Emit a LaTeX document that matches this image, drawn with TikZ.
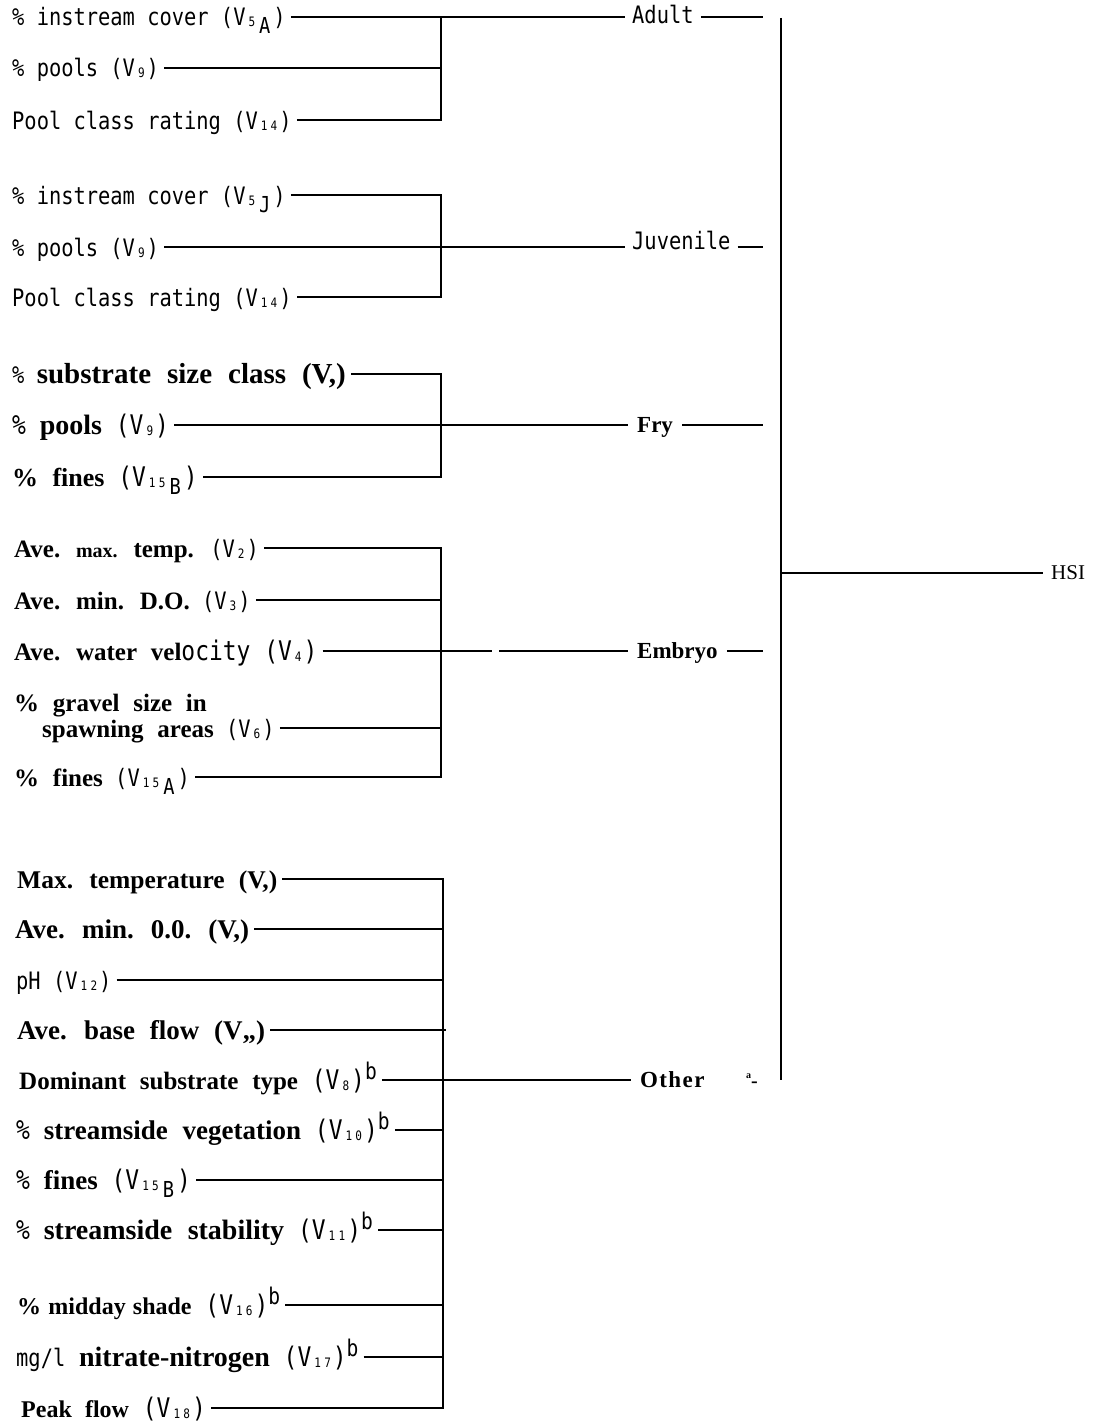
\documentclass[tikz,border=0pt]{standalone}
\usepackage{fontspec}
\setmainfont{Liberation Serif}
\newfontfamily\twf[FakeStretch=0.85]{DejaVu Sans Mono}
\newcommand\bdx[2][25]{{\rmfamily\bfseries\fontsize{#1}{#1}\selectfont\spaceskip=0.55em\relax #2}}
\newcommand\subn[1]{\hspace{3pt}\raisebox{-1pt}{\twf\fontsize{13}{13}\selectfont\addfontfeature{LetterSpace=25}#1}\hspace{2pt}}
\newcommand\lowl[1]{\hspace{2pt}\raisebox{-8pt}{\twf\fontsize{22}{22}\selectfont #1}\hspace{3pt}}
\newcommand\supl[1]{\raisebox{10pt}{\twf\fontsize{23}{23}\selectfont #1}}
\tikzset{
  lbl/.style={anchor=base west, inner xsep=5pt, inner ysep=0pt, font=\twf\fontsize{24}{26}\selectfont},
  lblb/.style={lbl, font=\twf\fontsize{27}{29}\selectfont},
  grp/.style={anchor=base west, inner xsep=7pt, inner ysep=0pt, font=\twf\fontsize{24}{26}\selectfont},
  grpb/.style={anchor=base west, inner xsep=9pt, inner ysep=0pt, font=\rmfamily\bfseries\fontsize{23}{25}\selectfont},
  ln/.style={line width=1.5pt},
  mainln/.style={line width=2.2pt}
}
\begin{document}
\begin{tikzpicture}[x=1pt,y=-1pt]
\useasboundingbox (0,0) rectangle (1098,1421);
\fill[white] (0,0) rectangle (1098,1421);

% ---------------- Adult
\node[lbl] (a1) at (7,26) {\% instream cover (V\subn{5}\lowl{A})};
\node[lbl] (a2) at (7,77) {\% pools (V\subn{9})};
\node[lbl] (a3) at (7,129) {Pool class rating (V\subn{14})};
\coordinate (ba1) at (441,17);
\coordinate (ba2) at (441,68);
\coordinate (ba3) at (441,120);
\node[grp] (adult) at (625,24) {Adult};
\coordinate (sadult) at (763,17);
\draw[ln] (a1.east|-ba1) -- (adult.west|-ba1);
\draw[ln] (a2.east|-ba2) -- (ba2);
\draw[ln] (a3.east|-ba3) -- (ba3) -- (ba1);
\draw[ln] (adult.east|-sadult) -- (sadult);

% ---------------- Juvenile
\node[lbl] (j1) at (7,204) {\% instream cover (V\subn{5}\lowl{J})};
\node[lbl] (j2) at (7,256) {\% pools (V\subn{9})};
\node[lbl] (j3) at (7,306) {Pool class rating (V\subn{14})};
\coordinate (bj1) at (441,195);
\coordinate (bj2) at (441,247);
\coordinate (bj3) at (441,297);
\node[grp] (juv) at (625,249) {Juvenile};
\coordinate (sjuv) at (763,247);
\draw[ln] (j1.east|-bj1) -- (bj1) -- (bj3) -- (j3.east|-bj3);
\draw[ln] (j2.east|-bj2) -- (juv.west|-bj2);
\draw[ln] (juv.east|-sjuv) -- (sjuv);

% ---------------- Fry
\node[lbl] (f1) at (7,383) {\% \bdx[29]{substrate size class (V,)}};
\node[lblb] (f2) at (7,434) {\% \bdx[28]{pools} (V\subn{9})};
\node[lblb] (f3) at (7,486) {\bdx[26]{\% fines} (V\subn{15}\lowl{B})};
\coordinate (bf1) at (441,374);
\coordinate (bf2) at (441,425);
\coordinate (bf3) at (441,477);
\node[grpb] (fry) at (628,432) {Fry};
\coordinate (sfry) at (763,425);
\draw[ln] (f1.east|-bf1) -- (bf1) -- (bf3) -- (f3.east|-bf3);
\draw[ln] (f2.east|-bf2) -- (fry.west|-bf2);
\draw[ln] (fry.east|-sfry) -- (sfry);

% ---------------- Embryo
\node[lbl] (e1) at (9,557) {\bdx{Ave. {\fontsize{20}{20}\selectfont max.} temp.} (V\subn{2})};
\node[lbl] (e2) at (9,609) {\bdx{Ave. min. D.O.} (V\subn{3})};
\node[lblb] (e3) at (9,660) {\bdx{Ave. water vel}ocity (V\subn{4})};
\node[lbl] (e4a) at (9,711) {\bdx{\% gravel size in}};
\node[lbl] (e4) at (37,737) {\bdx{spawning areas} (V\subn{6})};
\node[lbl] (e5) at (9,786) {\bdx{\% fines} (V\subn{15}\lowl{A})};
\coordinate (be1) at (441,548);
\coordinate (be2) at (441,600);
\coordinate (be3) at (441,651);
\coordinate (be4) at (441,728);
\coordinate (be5) at (441,777);
\coordinate (egap1) at (492,651);
\coordinate (egap2) at (499,651);
\node[grpb] (emb) at (628,658) {Embryo};
\coordinate (semb) at (763,651);
\draw[ln] (e1.east|-be1) -- (be1) -- (be5) -- (e5.east|-be5);
\draw[ln] (e2.east|-be2) -- (be2);
\draw[ln] (e4.east|-be4) -- (be4);
\draw[ln] (e3.east|-be3) -- (egap1);
\draw[ln] (egap2) -- (emb.west|-be3);
\draw[ln] (emb.east|-semb) -- (semb);

% ---------------- Other
\node[lbl] (o1) at (12,888) {\bdx[25.5]{Max. temperature (V,)}};
\node[lbl] (o2) at (10,938) {\bdx[27]{Ave. min. 0.0. (V,)}};
\node[lbl] (o3) at (11,989) {pH (V\subn{12})};
\node[lbl] (o4) at (12,1039) {\bdx[27]{Ave. base flow (V,,)}};
\node[lblb] (o5) at (14,1089) {\bdx{Dominant substrate type} (V\subn{8})\supl{b}};
\node[lblb] (o6) at (11,1139) {\% \bdx[27]{streamside vegetation} (V\subn{10})\supl{b}};
\node[lblb] (o7) at (11,1189) {\% \bdx[27]{fines} (V\subn{15}\lowl{B})};
\node[lblb] (o8) at (11,1239) {\% \bdx[28]{streamside stability} (V\subn{11})\supl{b}};
\node[lblb] (o9) at (12,1314) {{\rmfamily\bfseries\fontsize{24}{24}\selectfont\spaceskip=0.3em\relax \% midday shade} (V\subn{16})\supl{b}};
\node[lblb] (o10) at (11,1366) {{\fontsize{24}{24}\selectfont mg/l} \bdx[28]{nitrate-nitrogen} (V\subn{17})\supl{b}};
\node[lblb] (o11) at (16,1417) {\bdx[24]{Peak flow} (V\subn{18})};
\coordinate (bo1) at (443,879);
\coordinate (bo2) at (443,929);
\coordinate (bo3) at (443,980);
\coordinate (bo4) at (446,1030);
\coordinate (bo5) at (443,1080);
\coordinate (bo6) at (443,1130);
\coordinate (bo7) at (443,1180);
\coordinate (bo8) at (443,1230);
\coordinate (bo9) at (443,1305);
\coordinate (bo10) at (443,1357);
\coordinate (bo11) at (443,1408);
\node[grpb, font=\rmfamily\bfseries\fontsize{23}{25}\selectfont\addfontfeature{LetterSpace=6}] (oth) at (631,1087) {Other};
\node[anchor=base west, inner sep=0pt] (otha) at (746,1087)
  {\raisebox{9pt}{\bfseries\fontsize{10}{10}\selectfont a}\bfseries\fontsize{20}{20}\selectfont -};
\draw[ln] (o1.east|-bo1) -- (bo1) -- (bo11) -- (o11.east|-bo11);
\draw[ln] (o2.east|-bo2) -- (bo2);
\draw[ln] (o3.east|-bo3) -- (bo3);
\draw[ln] (o4.east|-bo4) -- (bo4);
\draw[ln] (o5.east|-bo5) -- (oth.west|-bo5);
\draw[ln] (o6.east|-bo6) -- (bo6);
\draw[ln] (o7.east|-bo7) -- (bo7);
\draw[ln] (o8.east|-bo8) -- (bo8);
\draw[ln] (o9.east|-bo9) -- (bo9);
\draw[ln] (o10.east|-bo10) -- (bo10);

% ---------------- HSI
\coordinate (mt) at (781,18);
\coordinate (mb) at (781,1080);
\coordinate (mh) at (781,573);
\node[anchor=west, inner xsep=8pt, font=\rmfamily\fontsize{21}{23}\selectfont] (hsi) at (1043,573) {HSI};
\draw[mainln] (mt) -- (mb);
\draw[ln] (mh) -- (hsi.west);
\end{tikzpicture}
\end{document}
